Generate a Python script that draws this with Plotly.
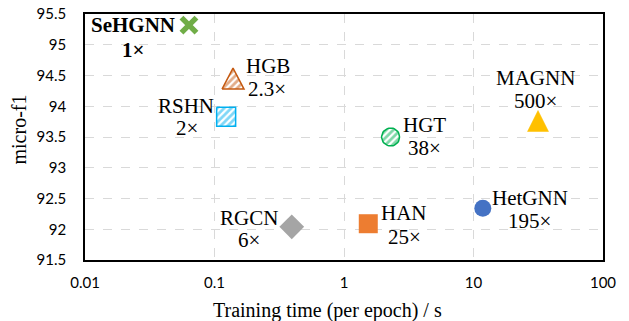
import numpy as np
import plotly.graph_objects as go

# ---- data ----
models = ["SeHGNN", "HGB", "RSHN", "HGT", "MAGNN", "RGCN", "HAN", "HetGNN"]
train_time = [0.0635, 0.139, 0.123, 2.29, 31.5, 0.395, 1.54, 11.8]
micro_f1 = [95.32, 94.45, 93.83, 93.50, 93.76, 92.04, 92.09, 92.34]
speedup = ["1×", "2.3×", "2×", "38×", "500×", "6×", "25×", "195×"]
x_tickvals = [0.01, 0.1, 1, 10, 100]
x_ticktext = ["0.01", "0.1", "1", "10", "100"]
y_tickvals = [91.5, 92, 92.5, 93, 93.5, 94, 94.5, 95, 95.5]
y_ticktext = ["91.5", "92", "92.5", "93", "93.5", "94", "94.5", "95", "95.5"]
x_title = "Training time (per epoch) / s"
y_title = "micro-f1"

# ---- styles / layout ----
W, H = 629, 321
OFF = 0  # body margin removed via post_script
# desired plot box on the page: left 85, right 603, top 14, bottom 260
ML, MR, MT, MB = 85 - OFF, W - 603 + OFF, 14 - OFF, H - 260 + OFF
PW, PH = W - ML - MR, H - MT - MB
XR = [-2, 2]
YR = [91.5, 95.5]
px_per_dec = PW / (XR[1] - XR[0])
px_per_unit = PH / (YR[1] - YR[0])


def page_to_paper(px, py):
    fx, fy = px - OFF, py - OFF
    return (fx - ML) / PW, 1 - (fy - MT) / PH


solid_style = {
    "SeHGNN": dict(symbol="x-thin", color="#70AD47", size=15, lw=5.5),
    "RGCN": dict(symbol="diamond", color="#A5A5A5", size=19, lw=0),
    "HAN": dict(symbol="square", color="#ED7D31", size=19, lw=0),
    "HetGNN": dict(symbol="circle", color="#4472C4", size=17, lw=0),
}
poly_style = {
    "HGB": dict(shape="triangle", color="#C55A11", w=22, h=21, hatch=True),
    "RSHN": dict(shape="square", color="#00B0F0", w=19, h=19, hatch=True),
    "HGT": dict(shape="circle", color="#00B050", w=18, h=18, hatch=True),
    "MAGNN": dict(shape="triangle", color="#FFC000", w=21, h=21, hatch=False),
}
# label offsets (px, right / down) for name line and speedup line
label_off = {
    "SeHGNN": ((-56, 0), (-56, 25)),
    "HGB": ((35, -13), (34, 10)),
    "RSHN": ((-40, -11), (-39, 11)),
    "HGT": ((34, -12), (34, 11)),
    "MAGNN": ((-3, -43), (-3, -20)),
    "RGCN": ((-43, -9), (-43, 13)),
    "HAN": ((36, -11), (36, 13)),
    "HetGNN": ((47, -10), (47, 13)),
}
SERIF = "Liberation Serif"
SANS = "Lato"

fig = go.Figure()


def poly(xc, yc, st):
    lx = np.log10(xc)
    if st["shape"] == "triangle":
        pts = [(-st["w"] / 2, st["h"] / 2), (st["w"] / 2, st["h"] / 2), (0, -st["h"] / 2)]
    elif st["shape"] == "square":
        pts = [(-st["w"] / 2, -st["h"] / 2), (st["w"] / 2, -st["h"] / 2),
               (st["w"] / 2, st["h"] / 2), (-st["w"] / 2, st["h"] / 2)]
    else:
        t = np.linspace(0, 2 * np.pi, 40)
        pts = list(zip(st["w"] / 2 * np.cos(t), st["h"] / 2 * np.sin(t)))
    pts = pts + [pts[0]]
    xs = [10 ** (lx + dx / px_per_dec) for dx, dy in pts]
    ys = [yc - dy / px_per_unit for dx, dy in pts]
    return xs, ys


for m, t, f in zip(models, train_time, micro_f1):
    if m in poly_style:
        st = poly_style[m]
        xs, ys = poly(t, f, st)
        kw = {}
        if st["hatch"]:
            kw["fillpattern"] = dict(shape="/", fgcolor=st["color"], bgcolor="white",
                                     size=5, solidity=0.55)
            fc, lw = "white", 1.5
        else:
            fc, lw = st["color"], 0.5
        fig.add_trace(go.Scatter(
            x=xs, y=ys, mode="lines", fill="toself",
            line=dict(color=st["color"], width=lw),
            fillcolor=fc, hoverinfo="skip", showlegend=False, name=m, **kw))
    else:
        st = solid_style[m]
        fig.add_trace(go.Scatter(
            x=[t], y=[f], mode="markers",
            marker=dict(symbol=st["symbol"], color=st["color"], size=st["size"],
                        line=dict(width=st["lw"], color=st["color"])),
            name=m, showlegend=False))

for m, t, f, s in zip(models, train_time, micro_f1, speedup):
    (dx1, dy1), (dx2, dy2) = label_off[m]
    bold = m == "SeHGNN"
    for txt, dx, dy in ((m, dx1, dy1), (s, dx2, dy2)):
        fig.add_annotation(
            x=np.log10(t), y=f, xref="x", yref="y",
            text=f"<b>{txt}</b>" if bold else txt,
            showarrow=False, xshift=dx, yshift=-dy,
            xanchor="center", yanchor="middle",
            font=dict(family=SERIF, size=21, color="#000000"))

# axis titles as annotations (positioned like the original)
tx, ty = page_to_paper(327, 310)
fig.add_annotation(text=x_title, xref="paper", yref="paper", x=tx, y=ty,
                   xanchor="center", yanchor="middle", showarrow=False,
                   font=dict(family=SERIF, size=20, color="#000000"))
tx, ty = page_to_paper(18.5, 130)
fig.add_annotation(text=y_title, xref="paper", yref="paper", x=tx, y=ty,
                   xanchor="center", yanchor="middle", showarrow=False, textangle=-90,
                   font=dict(family=SERIF, size=20, color="#000000"))

fig.update_layout(
    width=W, height=H,
    margin=dict(l=ML, r=MR, t=MT, b=MB, autoexpand=False),
    plot_bgcolor="white", paper_bgcolor="white",
    showlegend=False,
)
fig.update_xaxes(
    type="log", range=XR, tickvals=x_tickvals, ticktext=x_ticktext,
    automargin=False, ticklabeloverflow="allow",
    showgrid=True, gridcolor="#D9D9D9", griddash="dash", gridwidth=1,
    showline=True, linecolor="#000000", linewidth=1.5, mirror=True,
    ticks="", ticklabelstandoff=8, zeroline=False,
    tickfont=dict(family=SANS, size=15, color="#000000"),
)
fig.update_yaxes(
    range=YR, tickvals=y_tickvals, ticktext=y_ticktext,
    automargin=False, ticklabeloverflow="allow",
    showgrid=True, gridcolor="#D9D9D9", griddash="dash", gridwidth=1,
    showline=True, linecolor="#000000", linewidth=1.5, mirror=True,
    ticks="", ticklabelstandoff=14, zeroline=False,
    tickfont=dict(family=SANS, size=15, color="#000000"),
)

fig.write_html("out.html",
               config={"displayModeBar": False},
               post_script="document.body.style.margin='0px';document.body.style.overflow='hidden';")
